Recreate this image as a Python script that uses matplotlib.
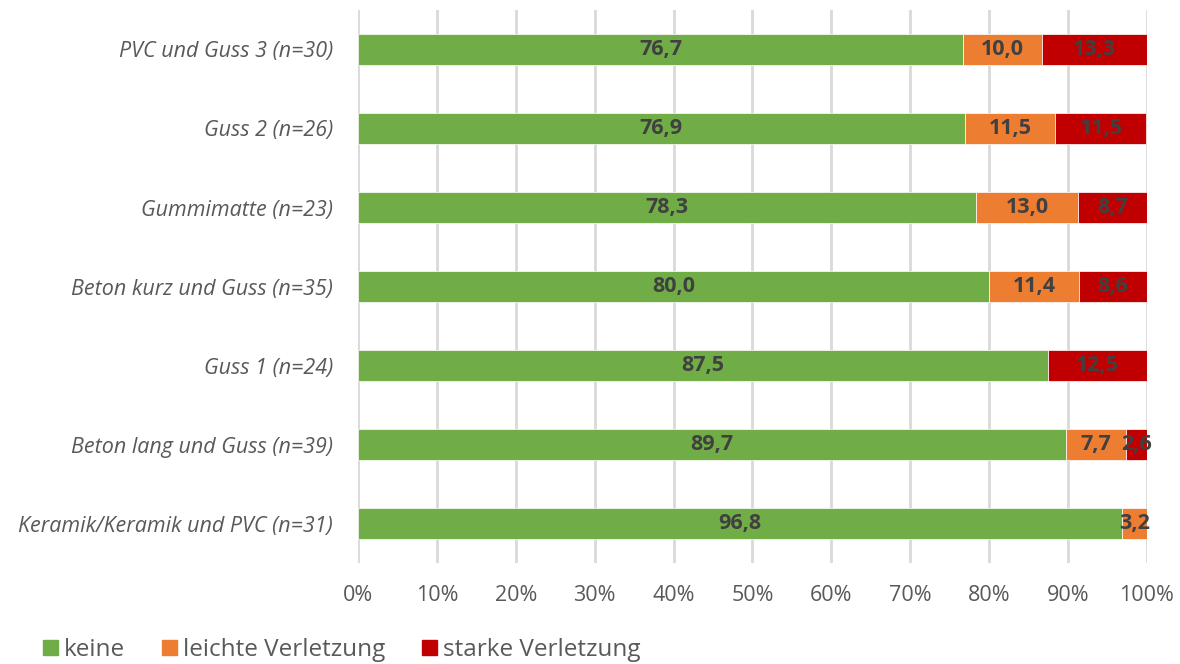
import numpy as np
from matplotlib import pyplot as plt
from matplotlib.patches import Patch

# Kategorien (von oben nach unten) und Anteile in %
kategorien = [
    "PVC und Guss 3 (n=30)",
    "Guss 2 (n=26)",
    "Gummimatte (n=23)",
    "Beton kurz und Guss (n=35)",
    "Guss 1 (n=24)",
    "Beton lang und Guss (n=39)",
    "Keramik/Keramik und PVC (n=31)",
]
keine = [76.7, 76.9, 78.3, 80.0, 87.5, 89.7, 96.8]
leicht = [10.0, 11.5, 13.0, 11.4, 0.0, 7.7, 3.2]
stark = [13.3, 11.5, 8.7, 8.6, 12.5, 2.6, 0.0]

serien = [
    ("keine", keine, "#70AD47"),
    ("leichte Verletzung", leicht, "#ED7D31"),
    ("starke Verletzung", stark, "#C00000"),
]

plt.rcParams["font.family"] = ["Open Sans", "DejaVu Sans"]

fig = plt.figure(figsize=(11.8, 6.64), dpi=100)
ax = fig.add_axes([0.3034, 0.152, 0.6686, 0.833])

y = np.arange(len(kategorien))[::-1]
links = np.zeros(len(kategorien))
for name, werte, farbe in serien:
    werte = np.array(werte)
    ax.barh(y, werte, left=links, height=0.4, color=farbe, label=name,
            edgecolor="white", linewidth=0.5, zorder=3)
    for yi, l, w in zip(y, links, werte):
        if w > 0:
            ax.text(l + w / 2, yi, f"{w:.1f}".replace(".", ","),
                    ha="center", va="center", fontsize=15.5,
                    fontweight="bold", color="#404040", zorder=4)
    links += werte

ax.set_xlim(0, 100)
ax.set_ylim(-0.5, len(kategorien) - 0.5)
ax.set_xticks(np.arange(0, 101, 10))
ax.set_xticklabels([f"{t}%" for t in range(0, 101, 10)])
ax.set_yticks(y)
ax.set_yticklabels(kategorien, fontstyle="italic")
ax.tick_params(axis="both", length=0, labelsize=15.5, colors="#595959")
ax.tick_params(axis="y", pad=18)
ax.tick_params(axis="x", pad=16)
ax.grid(axis="x", color="#D9D9D9", linewidth=2, zorder=0)
for s in ax.spines.values():
    s.set_visible(False)

handles = [Patch(color=f, label=n) for n, _, f in serien]
fig.legend(handles=handles, loc="lower left", bbox_to_anchor=(0.018, -0.03),
           ncol=3, frameon=False, fontsize=17.5, handlelength=0.62,
           handleheight=0.62, handletextpad=0.25, columnspacing=1.5,
           labelcolor="#595959")

fig.savefig("out.png", dpi=100)
